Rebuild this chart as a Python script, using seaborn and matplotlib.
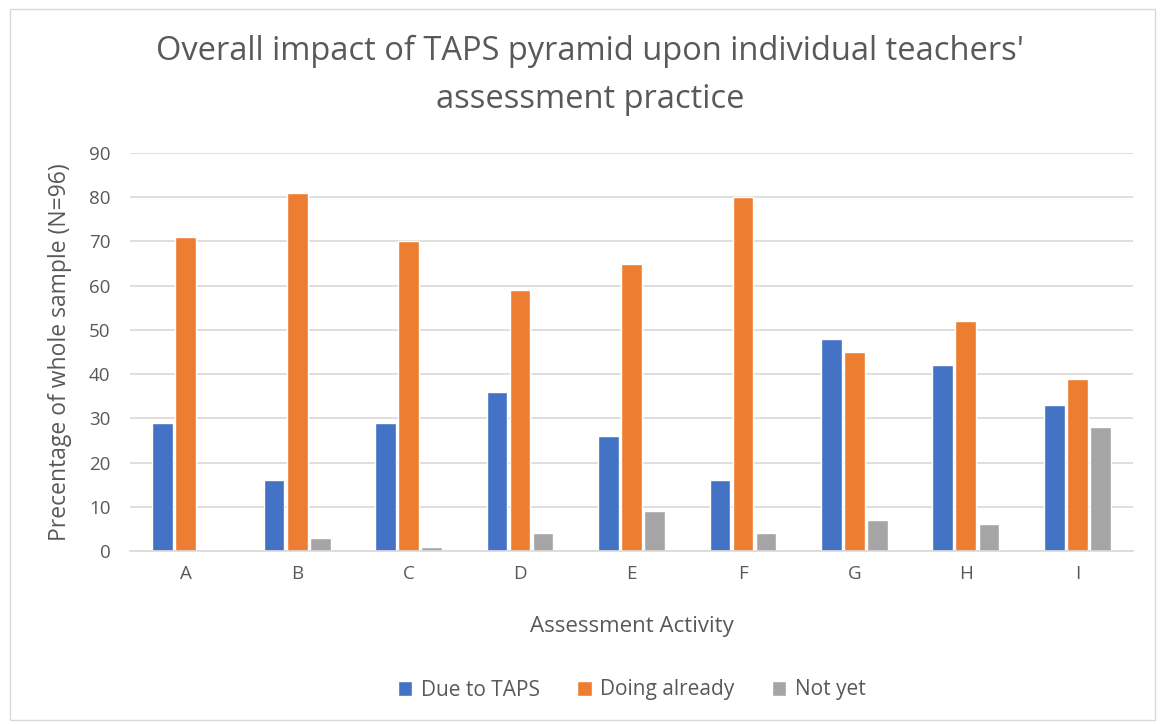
import numpy as np
import pandas as pd
import seaborn as sns
import matplotlib.pyplot as plt
from matplotlib.patches import Rectangle

# Datos
activities = ['A', 'B', 'C', 'D', 'E', 'F', 'G', 'H', 'I']
due_to_taps = [29, 16, 29, 36, 26, 16, 48, 42, 33]
doing_already = [71, 81, 70, 59, 65, 80, 45, 52, 39]
not_yet = [0, 3, 1, 4, 9, 4, 7, 6, 28]
series = ['Due to TAPS', 'Doing already', 'Not yet']

df = pd.DataFrame({
    'activity': activities * 3,
    'serie': np.repeat(series, len(activities)),
    'value': due_to_taps + doing_already + not_yet,
})

sns.set_theme(style='white')
plt.rcParams['font.family'] = ['Open Sans', 'DejaVu Sans']
text_color = '#595959'

fig = plt.figure(figsize=(11.61, 7.24), dpi=100)
ax = fig.add_axes([130 / 1161, 1 - 551 / 724, 1003 / 1161, 398 / 724])

sns.barplot(data=df, x='activity', y='value', hue='serie',
            palette=['#4472C4', '#ED7D31', '#A5A5A5'], saturation=1,
            width=0.62, gap=0.1, ax=ax, legend=True)

ax.set_ylim(0, 90)
ax.set_yticks(range(0, 91, 10))
ax.yaxis.grid(True, color='#D9D9D9', linewidth=1.2)
ax.set_axisbelow(True)
for s in ['top', 'right', 'left']:
    ax.spines[s].set_visible(False)
ax.spines['bottom'].set_color('#D9D9D9')
ax.spines['bottom'].set_linewidth(1.2)
ax.tick_params(axis='both', colors=text_color, labelsize=13.5, length=0)
ax.tick_params(axis='x', pad=10)
ax.tick_params(axis='y', pad=14)

ax.set_xlabel('Assessment Activity', fontsize=16, color=text_color, labelpad=24)
ax.set_ylabel('Precentage of whole sample (N=96)', fontsize=16.5, color=text_color, labelpad=12)

fig.text(0.508, 1 - 75 / 724, "Overall impact of TAPS pyramid upon individual teachers'\nassessment practice",
         ha='center', va='center', fontsize=23.5, color=text_color, linespacing=1.6)

leg = ax.legend(loc='center', bbox_to_anchor=(0.5, (551 - 690) / 398), ncol=3,
                frameon=False, fontsize=15, handlelength=0.7, handleheight=0.7,
                columnspacing=1.8, handletextpad=0.4)
for t in leg.get_texts():
    t.set_color(text_color)

fig.patches.append(Rectangle((10 / 1161, 1 - 720 / 724), 1145 / 1161, 711 / 724,
                             transform=fig.transFigure, fill=False,
                             edgecolor='#D9D9D9', linewidth=1))

fig.savefig('out.png', dpi=100)
